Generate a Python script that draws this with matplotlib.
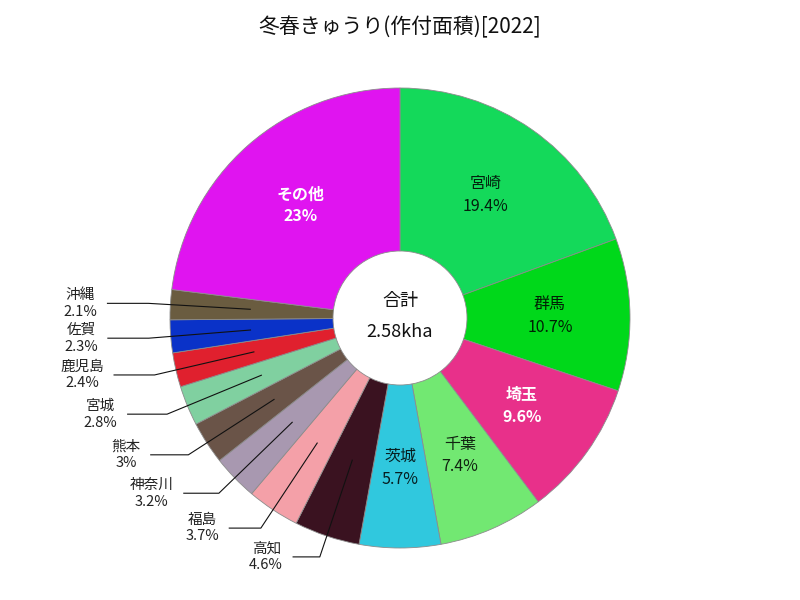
import numpy as np
import matplotlib.pyplot as plt

plt.rcParams['font.family'] = ['Noto Sans CJK JP', 'DejaVu Sans']

# data
prefs = ['宮崎', '群馬', '埼玉', '千葉', '茨城', '高知', '福島', '神奈川',
         '熊本', '宮城', '鹿児島', '佐賀', '沖縄', 'その他']
shares = [19.4, 10.7, 9.6, 7.4, 5.7, 4.6, 3.7, 3.2, 3, 2.8, 2.4, 2.3, 2.1, 23]
colors = ['#14d95a', '#00d81a', '#e8308a', '#72e872', '#30c8de', '#3a1220',
          '#f4a0a8', '#a898b0', '#6a5448', '#80d0a0', '#e0202e', '#0a32c8',
          '#6a5c40', '#e014f0']
total_label = '2.58kha'
title = '冬春きゅうり(作付面積)[2022]'

fig = plt.figure(figsize=(8, 6), dpi=100)
ax = fig.add_axes([0, 0, 1, 1])
ax.set_xlim(0, 800)
ax.set_ylim(0, 600)
ax.set_aspect('equal')
ax.axis('off')

cx, cy = 400, 282
R = 230
r_hole = 67

wedges, _ = ax.pie(shares, colors=colors, startangle=90, counterclock=False,
                   center=(cx, cy), radius=R,
                   wedgeprops=dict(width=R - r_hole, edgecolor='#8c8c8c', linewidth=0.6))
ax.set_xlim(0, 800)
ax.set_ylim(0, 600)


def fmt(v):
    return ('%g' % v) + '%'


def text_color(c):
    rgb = np.array(plt.matplotlib.colors.to_rgb(c))
    lum = 0.299 * rgb[0] + 0.587 * rgb[1] + 0.114 * rgb[2]
    if lum < 0.5:
        return '#ffffff'
    return tuple(rgb * 0.15)


tot = sum(shares)
start = 0.0
for name, v, c in zip(prefs, shares, colors):
    mid = start + v / 2
    start += v
    ang = np.deg2rad(90 - mid / tot * 360)
    ca, sa = np.cos(ang), np.sin(ang)
    if v >= 5:
        tc = text_color(c)
        ax.text(cx + 150 * ca, cy + 150 * sa, name + '\n' + fmt(v),
                ha='center', va='center', fontsize=11.5, color=tc,
                fontweight='bold' if tc == '#ffffff' else 'normal',
                linespacing=1.45, multialignment='center')
    else:
        x0, y0 = cx + 150 * ca, cy + 150 * sa
        x1, y1 = cx + 252 * ca, cy + 252 * sa
        length = 20 + 21 * abs(ca)
        side = 1 if ca >= 0 else -1
        x2 = x1 + side * length
        ax.plot([x0, x1, x2], [y0, y1, y1], color='#111111', lw=0.8)
        ax.text(x2 + side * 10, y1, name + '\n' + fmt(v),
                ha='left' if side > 0 else 'right', va='center', fontsize=10.5,
                color='#222222', linespacing=1.25, multialignment='center')

ax.text(cx, cy + 17, '合計', ha='center', va='center', fontsize=13, color='#111111')
ax.text(cx, cy - 14, total_label, ha='center', va='center', fontsize=13, color='#111111')

fig.text(0.5, 1 - 27 / 600, title, ha='center', va='center', fontsize=15, color='#111111')

fig.savefig('out.png', dpi=100)
